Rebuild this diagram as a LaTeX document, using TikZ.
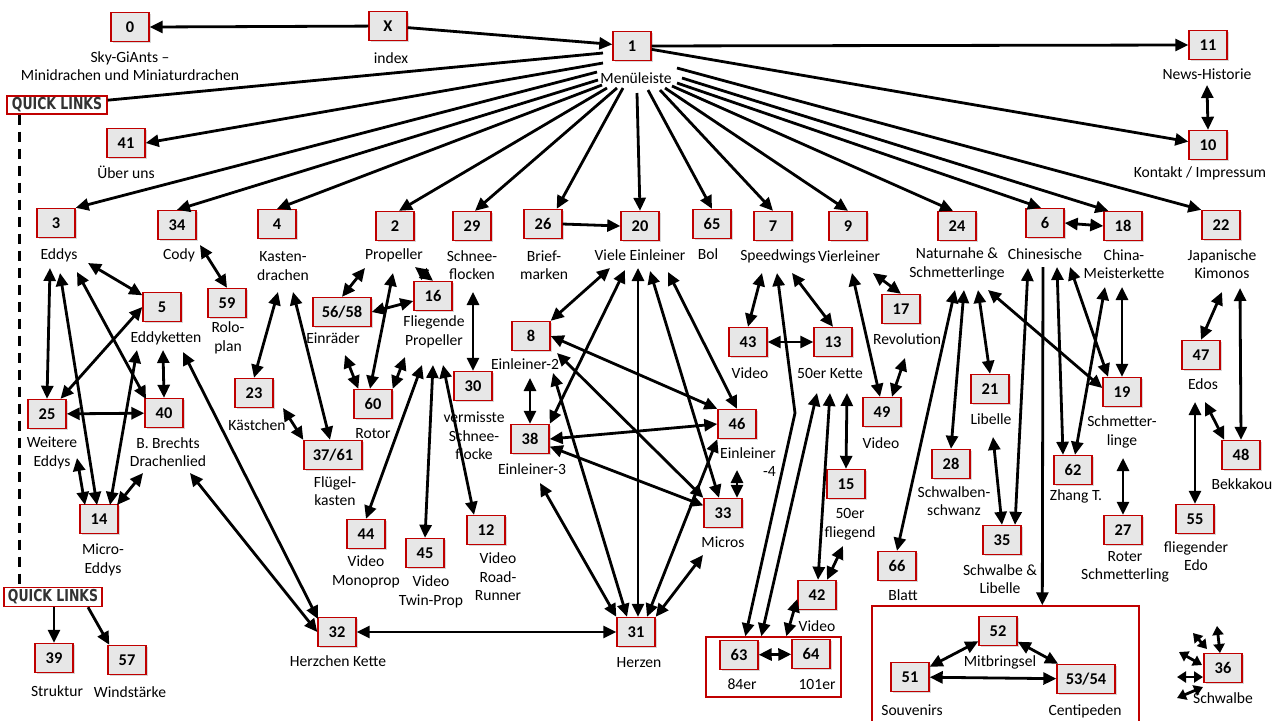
\documentclass[tikz,border=0pt]{standalone}
\usepackage{fontspec}
\usepackage{graphicx}
\setmainfont{Carlito}
\newfontfamily\qlfont{DejaVu Sans}
\usetikzlibrary{arrows.meta,calc,shadows}
\definecolor{boxred}{RGB}{192,0,0}
\definecolor{boxfill}{RGB}{231,231,231}
\definecolor{qlgray}{RGB}{50,50,50}
\begin{document}
\begin{tikzpicture}[x=0.5pt,y=-0.5pt,
  bx/.style={draw=boxred, line width=0.7pt, fill=boxfill, minimum width=19pt, minimum height=14.5pt, inner sep=1pt,
    font=\bfseries\fontsize{8.2pt}{9pt}\selectfont,
    drop shadow={shadow xshift=0.9pt, shadow yshift=-0.9pt, opacity=0.3}},
  wbx/.style={bx, minimum width=29pt},
  lb/.style={align=center, inner sep=0.5pt, font=\fontsize{7.8pt}{9.3pt}\selectfont},
  qlbox/.style={draw=boxred, line width=0.7pt, fill=white, minimum width=50pt, minimum height=9pt, inner sep=0pt,
    text=qlgray, font=\qlfont\bfseries\fontsize{8.2pt}{8.5pt}\selectfont},
  grp/.style={draw=boxred, line width=0.7pt, inner sep=0pt},
  ar/.style={line width=1.4pt, -{Triangle[length=6.5pt,width=6pt]}},
  dar/.style={line width=1.4pt, {Triangle[length=6.5pt,width=6pt]}-{Triangle[length=6.5pt,width=6pt]}},
  sdar/.style={line width=1.4pt, {Triangle[length=4.5pt,width=5.5pt]}-{Triangle[length=4.5pt,width=5.5pt]}},
  ln/.style={line width=1.4pt},
]
\path[use as bounding box, fill=white] (0,0) rectangle (1280,720);

% group frames
\node[grp, minimum width=67.5pt, minimum height=30pt] (R1) at (773.5,667) {};
\node[grp, minimum width=133.5pt, minimum height=58pt] (R2) at (1005.5,664) {};

% quick links
\node[qlbox] (QL1) at (57,105) {\scalebox{0.76}[1]{QUICK LINKS}};
\node[qlbox, minimum width=49pt, minimum height=9.5pt] (QL2) at (53,597) {\scalebox{0.76}[1]{QUICK LINKS}};

% boxes
\node[bx] (b0) at (130,27) {0};
\node[bx] (bX) at (388,26) {X};
\node[bx] (b1) at (632,46) {1};
\node[bx] (b11) at (1208,45) {11};
\node[bx] (b10) at (1208,145) {10};
\node[bx] (b41) at (126,143) {41};
\node[bx] (b3) at (56,223) {3};
\node[bx] (b34) at (177,225) {34};
\node[bx] (b4) at (277,224) {4};
\node[bx] (b2) at (395,226) {2};
\node[bx] (b29) at (472,226) {29};
\node[bx] (b26) at (543,224) {26};
\node[bx] (b20) at (640,226) {20};
\node[bx] (b65) at (712,224) {65};
\node[bx] (b7) at (773,226) {7};
\node[bx] (b9) at (848,226) {9};
\node[bx] (b24) at (957,226) {24};
\node[bx] (b6) at (1045,223) {6};
\node[bx] (b18) at (1123,226) {18};
\node[bx] (b22) at (1221,225) {22};
\node[bx] (b5) at (162,307) {5};
\node[bx] (b59) at (227,303) {59};
\node[wbx] (b5658) at (342,312) {56/58};
\node[bx] (b16) at (433,296) {16};
\node[bx] (b8) at (531,336) {8};
\node[bx] (b43) at (748,342) {43};
\node[bx] (b13) at (833,342) {13};
\node[bx] (b17) at (901,309) {17};
\node[bx] (b21) at (990,389) {21};
\node[bx] (b19) at (1122,392) {19};
\node[bx] (b47) at (1201,355) {47};
\node[bx] (b25) at (47,414) {25};
\node[bx] (b40) at (164,413) {40};
\node[bx] (b23) at (254,393) {23};
\node[bx] (b60) at (373,404) {60};
\node[bx] (b30) at (473,386) {30};
\node[wbx] (b3761) at (333,455) {37/61};
\node[bx] (b38) at (530,439) {38};
\node[bx] (b46) at (737,424) {46};
\node[bx] (b49) at (882,412) {49};
\node[bx] (b28) at (951,464) {28};
\node[bx] (b62) at (1073,470) {62};
\node[bx] (b48) at (1241,455) {48};
\node[bx] (b15) at (846,484) {15};
\node[bx] (b33) at (723,513) {33};
\node[bx] (b14) at (99,519) {14};
\node[bx] (b44) at (366,534) {44};
\node[bx] (b45) at (425,553) {45};
\node[bx] (b12) at (486,530) {12};
\node[bx] (b35) at (1002,540) {35};
\node[bx] (b27) at (1123,530) {27};
\node[bx] (b55) at (1195,519) {55};
\node[bx] (b66) at (897,566) {66};
\node[bx] (b42) at (817,595) {42};
\node[bx] (b32) at (337,632) {32};
\node[bx] (b31) at (636,632) {31};
\node[bx] (b63) at (739,655) {63};
\node[bx] (b64) at (811,654) {64};
\node[bx] (b39) at (54,658) {39};
\node[bx] (b57) at (127,660) {57};
\node[bx] (b52) at (998,631) {52};
\node[bx] (b51) at (910,677) {51};
\node[wbx] (b5354) at (1086,679) {53/54};
\node[bx] (b36) at (1223,668) {36};

% labels
\node[lb] (L0) at (130,66) {Sky-GiAnts –\\Minidrachen und Miniaturdrachen};
\node[lb] (LX) at (391,58) {index};
\node[lb] (L1) at (636,78) {Menüleiste};
\node[lb] (L11) at (1207,74) {News-Historie};
\node[lb] (L10) at (1200,173) {Kontakt / Impressum};
\node[lb] (L41) at (126,172) {Über uns};
\node[lb] (L3) at (59,255) {Eddys};
\node[lb] (L34) at (179,255) {Cody};
\node[lb] (L4) at (283,266) {Kasten-\\drachen};
\node[lb] (L2) at (394,255) {Propeller};
\node[lb] (L29) at (472,265) {Schnee-\\flocken};
\node[lb] (L26) at (544,265) {Brief-\\marken};
\node[lb] (L20) at (640,255) {Viele Einleiner};
\node[lb] (L65) at (708,254) {Bol};
\node[lb] (L7) at (778,256) {Speedwings};
\node[lb] (L9) at (849,256) {Vierleiner};
\node[lb] (L24) at (957,264) {Naturnahe \&\\Schmetterlinge};
\node[lb] (L6) at (1045,254) {Chinesische};
\node[lb] (L18) at (1124,264) {China-\\Meisterkette};
\node[lb] (L22) at (1222,264) {Japanische\\Kimonos};
\node[lb] (L5) at (166,338) {Eddyketten};
\node[lb] (L59) at (228,338) {Rolo-\\plan};
\node[lb] (L5658) at (333,338) {Einräder};
\node[lb] (L16) at (434,332) {Fliegende\\Propeller};
\node[lb] (L8) at (525,364) {Einleiner-2};
\node[lb] (L43) at (750,373) {Video};
\node[lb] (L13) at (830,373) {50er Kette};
\node[lb] (L17) at (907,339) {Revolution};
\node[lb] (L21) at (991,419) {Libelle};
\node[lb] (L19) at (1122,432) {Schmetter-\\linge};
\node[lb] (L47) at (1203,384) {Edos};
\node[lb] (L25) at (52,453) {Weitere\\Eddys};
\node[lb] (L40) at (168,452) {B. Brechts\\Drachenlied};
\node[lb] (L23) at (257,425) {Kästchen};
\node[lb] (L60) at (373,434) {Rotor};
\node[lb] (L30) at (474,436) {vermisste\\Schnee-\\flocke};
\node[lb] (L3761) at (335,491) {Flügel-\\kasten};
\node[lb] (L38) at (532,469) {Einleiner-3};
\node[lb, align=right] (L46) at (748,462) {Einleiner\\-4};
\node[lb] (L49) at (881,443) {Video};
\node[lb] (L28) at (954,501) {Schwalben-\\schwanz};
\node[lb] (L62) at (1076,496) {Zhang T.};
\node[lb] (L48) at (1242,484) {Bekkakou};
\node[lb] (L15) at (850,524) {50er\\fliegend};
\node[lb] (L33) at (723,542) {Micros};
\node[lb] (L14) at (103,560) {Micro-\\Eddys};
\node[lb] (L44) at (366,572) {Video\\Monoprop};
\node[lb] (L45) at (431,592) {Video\\Twin-Prop};
\node[lb] (L12) at (498,577) {Video\\Road-\\Runner};
\node[lb] (L35) at (1000,579) {Schwalbe \&\\Libelle};
\node[lb] (L27) at (1125,567) {Roter\\Schmetterling};
\node[lb] (L55) at (1196,556) {fliegender\\Edo};
\node[lb] (L66) at (903,595) {Blatt};
\node[lb] (L42) at (817,626) {Video};
\node[lb] (L32) at (338,661) {Herzchen Kette};
\node[lb] (L31) at (639,663) {Herzen};
\node[lb] (L63) at (742,684) {84er};
\node[lb] (L64) at (817,684) {101er};
\node[lb] (L39) at (57,691) {Struktur};
\node[lb] (L57) at (130,692) {Windstärke};
\node[lb] (L52) at (1000,662) {Mitbringsel};
\node[lb] (L51) at (912,710) {Souvenirs};
\node[lb] (L5354) at (1085,711) {Centipeden};
\node[lb] (L36) at (1223,698) {Schwalbe};

\coordinate (bend7) at (795,413);

% top connectors
\draw[ar] (bX) -- (b0.east);
\draw[ar] (bX) -- (b1);
\draw[ar] (b1) -- (b11.west);
\draw[ar] (b1) -- (b10);
\draw[ln] ($(L1)+(-33,-25)$) -- (QL1);
\draw[ar] ($(L1)+(-33,-15)$) -- (b41.east);
\draw[ar] ($(L1)+(-39,-6)$) -- (b3.north east);
\draw[ar] ($(L1)+(-38,2)$) -- (b34.north);
\draw[ar] ($(L1)+(-34,7)$) -- (b4.north);
\draw[ar] ($(L1)+(-29,10)$) -- ($(b2.north)+(4,0)$);
\draw[ar] ($(L1)+(-19,10)$) -- ($(b29.north)+(3,0)$);
\draw[ar] ($(L1)+(-13,10)$) -- ($(b26.north east)+(-6,0)$);
\draw[ar] ($(L1)+(1,15)$) -- (b20.north);
\draw[ar] ($(L1)+(12,12)$) -- (b65.north);
\draw[ar] ($(L1)+(24,12)$) -- (b7.north);
\draw[ar] ($(L1)+(29,10)$) -- (b9.north);
\draw[ar] ($(L1)+(36,8)$) -- ($(b24.north)+(-4,0)$);
\draw[ar] ($(L1)+(41,5)$) -- ($(b6.north)+(-4,0)$);
\draw[ar] ($(L1)+(46,0)$) -- ($(b18.north west)+(5,0)$);
\draw[ar] ($(L1)+(41,-10)$) -- (b22.north west);
\draw[dar] ($(L11)+(0,11)$) -- (b10.north);
\draw[ar] (b26.east) -- (b20.west);
\draw[dar] (b6.east) -- (b18.west);

% Eddys
\draw[dar] ($(L3)+(-9,13)$) -- (b25.north);
\draw[dar] ($(L3)+(29,8)$) -- (b5);
\draw[dar] ($(L3)+(1,18)$) -- ($(b14)+(-2,-14)$);
\draw[dar] ($(L3)+(18,17)$) -- ($(b40)+(-18,-14)$);
\draw[dar] (b5.west) -- (b25);
\draw[dar] ($(L5)+(-3,12)$) -- (b40.north);
\draw[dar] (b25) -- (b40);
\draw[dar] ($(L5)+(-29,12)$) -- ($(b14)+(11,-14)$);
\draw[dar] ($(L25)+(25,5)$) -- ($(b14)+(-14,-14)$);
\draw[dar] ($(L40)+(-25,21)$) -- ($(b14)+(18,-14)$);
\draw[dar] ($(L5)+(17,14)$) -- ($(b32)+(-19,-13)$);
\draw[dar] ($(L40)+(22,21)$) -- (b32.west);

% Cody / Kasten
\draw[dar] ($(L34)+(21,-10)$) -- (b59.north);
\draw[dar] ($(L4)+(-5,26)$) -- (b23.north);
\draw[dar] ($(L4)+(10,26)$) -- ($(b3761.north)+(-3,0)$);
\draw[dar] ($(L23)+(26,-17)$) -- (b3761.north west);

% Propeller
\draw[dar] ($(L2)+(-29,13)$) -- (b5658.north);
\draw[dar] ($(L2)+(21,12)$) -- (b16.north);
\draw[dar] ($(L2)+(-1,18)$) -- ($(b60.north)+(-3,0)$);
\draw[dar] (b5658.east) -- ($(b16.west)+(0,5)$);
\draw[dar] ($(L5658)+(12,17)$) -- ($(b60.north west)+(5,0)$);
\draw[dar] (b60.north east) -- ($(L16)+(-29,25)$);
\draw[dar] ($(L16)+(-12,33)$) -- (b44.north);
\draw[dar] ($(L16)+(-1,33)$) -- (b45.north);
\draw[dar] ($(L16)+(9,33)$) -- ($(b12.north)+(-12,0)$);
\draw[dar] ($(L29)+(1,27)$) -- (b30.north);

% Einleiner
\draw[dar] ($(L20)+(-30,13)$) -- (b8.north east);
\draw[dar] ($(L20)+(-15,15)$) -- (b38.north east);
\draw[dar] ($(L20)+(-2,13)$) -- ($(b31.north)+(2,0)$);
\draw[dar] ($(L20)+(10,16)$) -- ($(b33.north)+(-4,0)$);
\draw[dar] ($(L20)+(28,17)$) -- (b46.north);
\draw[dar] ($(L8)+(5,14)$) -- (b38.north);
\draw[dar] (b8.east) -- (b46.north west);
\draw[dar] ($(L8)+(32,-11)$) -- (b33.north west);
\draw[dar] ($(L8)+(28,9)$) -- ($(b31.north)+(-9,0)$);
\draw[dar] ($(L38)+(8,14)$) -- (b31.north west);
\draw[dar] (b38.east) -- (b46.west);
\draw[dar] (b38) -- (b33);
\draw[dar] ($(L46)+(-11,8)$) -- ($(b33.north)+(14,0)$);
\draw[dar] (b46.south west) -- ($(b31.north)+(11,0)$);
\draw[dar] ($(L33)+(-20,13)$) -- (b31.north east);
\draw[dar] (b32) -- (b31);

% Speedwings / Vierleiner
\draw[dar] ($(L7)+(-16,17)$) -- (b43.north);
\draw[dar] ($(L7)+(14,17)$) -- (b13.north);
\draw[dar] ($(L7)+(-1,17)$) -- (bend7) -- ($(R1.north west)+(40,0)$);
\draw[dar] ($(L13)+(-13,20)$) -- ($(R1.north west)+(56,0)$);
\draw[dar] ($(L13)+(0,20)$) -- ($(b42.north)+(1,0)$);
\draw[dar] ($(L13)+(17,20)$) -- (b15.north);
\draw[dar] (b43.east) -- (b13.west);
\draw[dar] ($(L9)+(3,17)$) -- ($(b49.north)+(-2,0)$);
\draw[dar] ($(L9)+(24,17)$) -- (b17.north);
\draw[dar] ($(L17)+(-2,19)$) -- ($(b49.north)+(10,0)$);
\draw[dar] ($(L15)+(-7,22)$) -- ($(b42.north)+(10,0)$);
\draw[dar] ($(b42.west)+(0,4)$) -- ($(R1.north west)+(81,0)$);
\draw[dar] (b63) -- (b64);

% Naturnahe / Chinesische / Japanische
\draw[dar] ($(L24)+(-2,26)$) -- (b66.north);
\draw[dar] ($(L24)+(7,26)$) -- (b28.north);
\draw[dar] ($(L24)+(21,26)$) -- (b21.north);
\draw[dar] ($(L24)+(31,26)$) -- ($(b19.west)+(0,-4)$);
\draw[dar] ($(L21)+(2,18)$) -- (b35.north);
\draw[dar] ($(L6)+(-17,14)$) -- ($(b35.north)+(13,0)$);
\draw[ar] ($(L6)+(-2,13)$) -- ($(R2.north west)+(171,0)$);
\draw[dar] ($(L6)+(12,13)$) -- ($(b62.north)+(-10,0)$);
\draw[dar] ($(L6)+(25,13)$) -- ($(b19.north)+(-14,0)$);
\draw[dar] ($(L18)+(-19,23)$) -- ($(b62.north)+(2,0)$);
\draw[dar] ($(L18)+(-2,23)$) -- (b19.north);
\draw[dar] ($(L19)+(1,26)$) -- (b27.north);
\draw[dar] ($(L22)+(0,28)$) -- (b47.north);
\draw[dar] ($(L22)+(18,24)$) -- (b48.north);
\draw[dar] ($(L47)+(2,18)$) -- ($(b48.north west)+(3,0)$);
\draw[dar] ($(L47)+(-8,18)$) -- (b55.north);

% group
\draw[dar] (b52) -- (b51);
\draw[dar] (b52) -- (b5354);
\draw[dar] (b51) -- (b5354);

% Schwalbe
\draw[sdar] ($(b36)+(-30,-35)$) -- ($(b36)+(-16,-19)$);
\draw[sdar] ($(b36)+(-6,-42)$) -- ($(b36)+(-3,-15)$);
\draw[sdar] ($(b36)+(-44,-16)$) -- ($(b36)+(-21,-3)$);
\draw[sdar] ($(b36)+(-46,9)$) -- ($(b36)+(-20,9)$);
\draw[sdar] ($(b36)+(-46,30)$) -- ($(b36)+(-20,19)$);

% quick links
\draw[line width=1.6pt, dash pattern=on 5pt off 3.5pt] ($(QL1.south west)+(13,0)$) -- ($(QL2.north west)+(16,0)$);
\draw[ar] ($(QL2.south)+(1,0)$) -- (b39.north);
\draw[ar] ($(QL2.south)+(35,0)$) -- ($(b57.north west)+(2,0)$);
\end{tikzpicture}
\end{document}
